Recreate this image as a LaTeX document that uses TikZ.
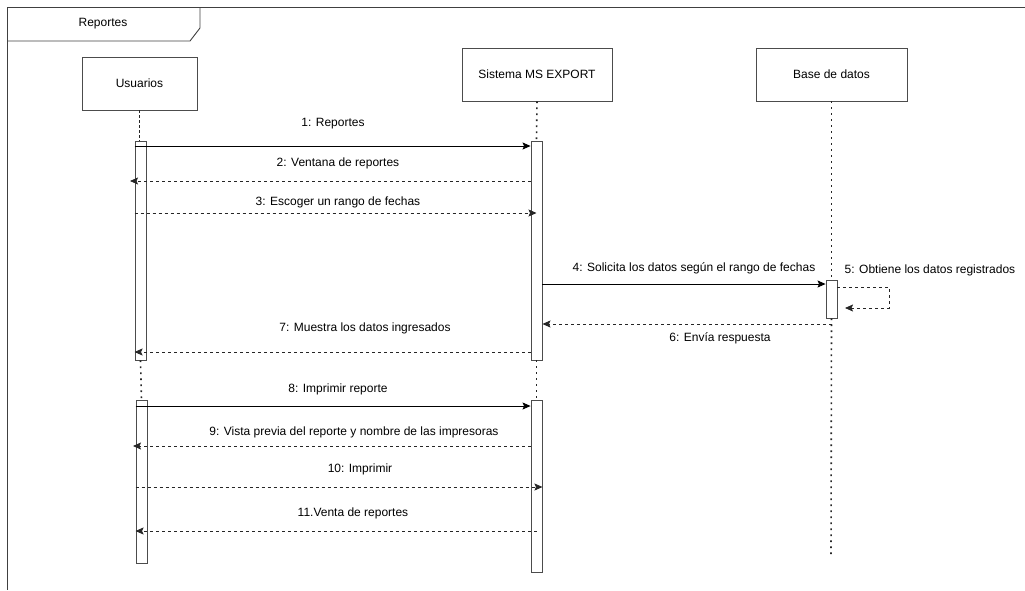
\documentclass[tikz,border=0pt]{standalone}
\usepackage{fontspec}
\setmainfont{Liberation Sans}
\usetikzlibrary{arrows.meta}
\begin{document}
\begin{tikzpicture}[x=1pt,y=-1pt,
  lbl/.style={font=\fontsize{12}{14}\selectfont, text=black, inner sep=1pt},
  actor/.style={draw=black!70, line width=0.9pt, fill=white, minimum height=53pt, inner sep=0pt, font=\fontsize{12}{14}\selectfont},
  bar/.style={draw=black!70, fill=white, line width=0.9pt, minimum width=11pt, inner sep=0pt},
  sync/.style={-{Stealth[length=8pt,width=7pt,inset=1.5pt]}, line width=0.8pt, draw=black},
  reply/.style={sync, dash pattern=on 3pt off 3pt, draw=black!85},
  selfmsg/.style={reply},
  lifeline/.style={line width=1.6pt, dash pattern=on 1.6pt off 4.4pt, draw=black!85},
  lifedash/.style={line width=0.9pt, dash pattern=on 3pt off 2pt, draw=black!85},
  framel/.style={draw=black!75, line width=0.9pt}
]
\useasboundingbox (0,0) rectangle (1025,590);
% frame
\coordinate (ftl) at (7,7);
\coordinate (ftr) at (1025,7);
\coordinate (fbl) at (7,590);
\draw[framel] (ftr) -- (ftl) -- (fbl);
\coordinate (tab1) at (7,41);
\coordinate (tab2) at (190,41);
\coordinate (tab3) at (200,28);
\coordinate (tab4) at (200,7);
\draw[framel] (tab1) -- (tab2) -- (tab3) -- (tab4);
\node[lbl] (frametitle) at (103,24) {Reportes};

% actors
\node[actor, minimum width=115pt] (usr) at (139.5,83.5) {Usuarios};
\node[actor, minimum width=150pt] (sys) at (537,74.5) {Sistema MS EXPORT};
\node[actor, minimum width=151pt] (db) at (831.5,74.5) {Base de datos};

% activation bars
\node[bar, minimum height=219pt] (u1) at (140.5,250.5) {};
\node[bar, minimum height=163pt] (u2) at (141.5,481.5) {};
\node[bar, minimum height=219pt] (s1) at (536.5,250.5) {};
\node[bar, minimum height=172pt] (s2) at (536.5,486) {};
\node[bar, minimum height=38pt] (d1) at (831.5,299) {};
\coordinate (dbend) at (831,558);

% lifelines
\draw[lifedash] (usr.south) -- (usr.south |- u1.north);
\draw[lifeline] (sys.south) -- (s1.north);
\draw[lifeline] (u1.south) -- (u2.north);
\draw[lifeline] (s1.south) -- (s2.north);
\draw[lifeline] (db.south) -- (d1.north);
\draw[lifeline] (d1.south) -- (dbend);

% messages
\draw[sync] (u1.west |- 0,146) -- (s1.west |- 0,146);
\node[lbl] (l1) at (333,124) {1: Reportes};

\draw[reply] (s1.west |- 0,181) -- (130,181);
\node[lbl] (l2) at (338,163) {2: Ventana de reportes};

\draw[reply] (u1.west |- 0,213) -- (s1.center |- 0,213);
\node[lbl] (l3) at (338,202) {3: Escoger un rango de fechas};

\draw[sync] (s1.east |- 0,284) -- (d1.west |- 0,284);
\node[lbl] (l4) at (694,268) {4: Solicita los datos según el rango de fechas};

\coordinate (sm1) at (889,287);
\coordinate (sm2) at (889,308);
\draw[selfmsg] (d1.east |- 0,287) -- (sm1) -- (sm2) -- (845,308);
\node[lbl] (l5) at (930,270) {5: Obtiene los datos registrados};

\draw[reply] (d1.center |- 0,324) -- (s1.east |- 0,324);
\node[lbl] (l6) at (720,338) {6: Envía respuesta};

\draw[reply] (s1.west |- 0,352) -- (u1.west |- 0,352);
\node[lbl] (l7) at (365,328) {7: Muestra los datos ingresados};

\draw[sync] (u2.west |- 0,406) -- (s2.west |- 0,406);
\node[lbl] (l8) at (338,389) {8: Imprimir reporte};

\draw[reply] (s2.west |- 0,446) -- (133,446);
\node[lbl] (l9) at (354,432) {9: Vista previa del reporte y nombre de las impresoras};

\draw[reply] (u2.west |- 0,487) -- (s2.east |- 0,487);
\node[lbl] (l10) at (360,469) {10: Imprimir};

\draw[reply] (s2.center |- 0,531) -- (u2.west |- 0,531);
\node[lbl] (l11) at (353,513) {11.Venta de reportes};
\end{tikzpicture}
\end{document}
